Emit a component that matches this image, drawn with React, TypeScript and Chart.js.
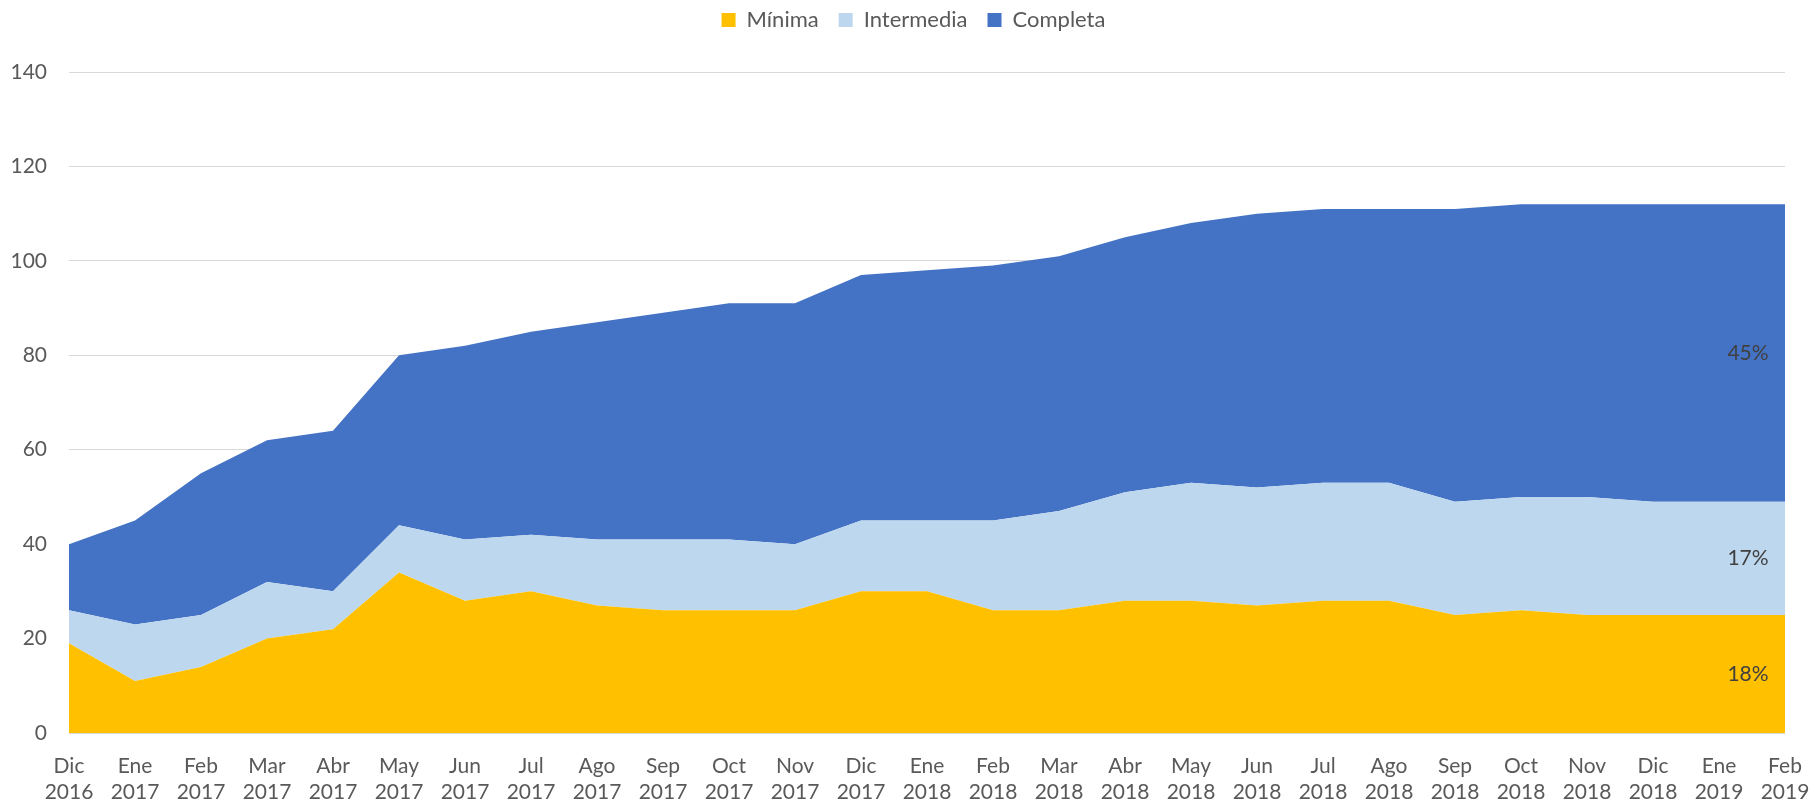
import React, { useEffect, useRef } from "react";
import { Chart, registerables } from "chart.js";

Chart.register(...registerables);

const CATEGORIES: string[][] = [
  ["Dic", "2016"], ["Ene", "2017"], ["Feb", "2017"], ["Mar", "2017"], ["Abr", "2017"],
  ["May", "2017"], ["Jun", "2017"], ["Jul", "2017"], ["Ago", "2017"], ["Sep", "2017"],
  ["Oct", "2017"], ["Nov", "2017"], ["Dic", "2017"], ["Ene", "2018"], ["Feb", "2018"],
  ["Mar", "2018"], ["Abr", "2018"], ["May", "2018"], ["Jun", "2018"], ["Jul", "2018"],
  ["Ago", "2018"], ["Sep", "2018"], ["Oct", "2018"], ["Nov", "2018"], ["Dic", "2018"],
  ["Ene", "2019"], ["Feb", "2019"],
];

const MINIMA = [19, 11, 14, 20, 22, 34, 28, 30, 27, 26, 26, 26, 30, 30, 26, 26, 28, 28, 27, 28, 28, 25, 26, 25, 25, 25, 25];
const INTERMEDIA = [7, 12, 11, 12, 8, 10, 13, 12, 14, 15, 15, 14, 15, 15, 19, 21, 23, 25, 25, 25, 25, 24, 24, 25, 24, 24, 24];
const COMPLETA = [14, 22, 30, 30, 34, 36, 41, 43, 46, 48, 50, 51, 52, 53, 54, 54, 54, 55, 58, 58, 58, 62, 62, 62, 63, 63, 63];

const SERIES_NAMES = ["Mínima", "Intermedia", "Completa"];
const SHARE_LABELS = ["18%", "17%", "45%"];

const Y_MIN = 0;
const Y_MAX = 140;
const Y_STEP = 20;

const COLORS = ["#FFC000", "#BDD7EE", "#4472C4"];
const FONT = "Lato, 'Open Sans', sans-serif";

export default function App() {
  const canvasRef = useRef<HTMLCanvasElement | null>(null);

  useEffect(() => {
    document.body.style.margin = "0";
    const canvas = canvasRef.current;
    if (!canvas) return;

    const shareLabels = {
      id: "shareLabels",
      afterDatasetsDraw(chart: any) {
        const ctx = chart.ctx;
        const yScale = chart.scales.y;
        ctx.save();
        ctx.font = `21px ${FONT}`;
        ctx.fillStyle = "#404040";
        ctx.textAlign = "center";
        ctx.textBaseline = "middle";
        let prevY = yScale.getPixelForValue(0);
        for (let i = 0; i < chart.data.datasets.length; i++) {
          const meta = chart.getDatasetMeta(i);
          const pt = meta.data[meta.data.length - 1];
          const mid = (pt.y + prevY) / 2;
          ctx.fillText(SHARE_LABELS[i], pt.x - 37, mid);
          prevY = pt.y;
        }
        ctx.restore();
      },
    };

    const legendTweak = {
      id: "legendTweak",
      beforeLayout(chart: any) {
        const lg = chart.legend;
        if (lg && !lg._patched) {
          const origFit = lg.fit.bind(lg);
          lg.fit = function () {
            origFit();
            this.height = 72;
          };
          const origDraw = lg.draw.bind(lg);
          lg.draw = function () {
            const c = chart.ctx;
            c.save();
            c.translate(21, -11);
            origDraw();
            c.restore();
          };
          lg._patched = true;
        }
      },
    };

    const datasets = [MINIMA, INTERMEDIA, COMPLETA].map((d, i) => ({
      label: SERIES_NAMES[i],
      data: d,
      backgroundColor: COLORS[i],
      borderColor: COLORS[i],
      borderWidth: 0,
      pointRadius: 0,
      pointHoverRadius: 0,
      tension: 0,
      fill: i === 0 ? "origin" : "-1",
    }));

    const chart = new Chart(canvas, {
      type: "line",
      data: { labels: CATEGORIES, datasets: datasets as any },
      options: {
        animation: false,
        responsive: false,
        maintainAspectRatio: false,
        layout: { padding: { left: 0, right: 29, top: 0, bottom: 0 } },
        plugins: {
          legend: {
            display: true,
            position: "top",
            labels: {
              boxWidth: 14,
              boxHeight: 14,
              padding: 20,
              color: "#595959",
              font: { family: FONT, size: 22 },
            },
          },
          tooltip: { enabled: false },
        },
        scales: {
          x: {
            type: "category",
            offset: false,
            grid: { display: false, drawTicks: false },
            border: { display: false },
            ticks: {
              color: "#595959",
              font: { family: FONT, size: 21, lineHeight: 1.25 },
              padding: 20,
              maxRotation: 0,
              autoSkip: false,
            },
            afterFit(scale: any) {
              scale.height = 73;
              scale.paddingLeft = 0;
              scale.paddingRight = 0;
            },
          },
          y: {
            stacked: true,
            min: Y_MIN,
            max: Y_MAX,
            grid: { color: "#d9d9d9", lineWidth: 1, drawTicks: false },
            border: { display: false },
            ticks: {
              stepSize: Y_STEP,
              color: "#595959",
              font: { family: FONT, size: 21 },
              padding: 22,
            },
            afterFit(scale: any) {
              scale.width = 69;
            },
          },
        },
      },
      plugins: [shareLabels, legendTweak],
    });

    return () => chart.destroy();
  }, []);

  return (
    <div style={{ width: 1814, height: 806 }}>
      <canvas ref={canvasRef} width={1814} height={806} style={{ display: "block" }} />
    </div>
  );
}
